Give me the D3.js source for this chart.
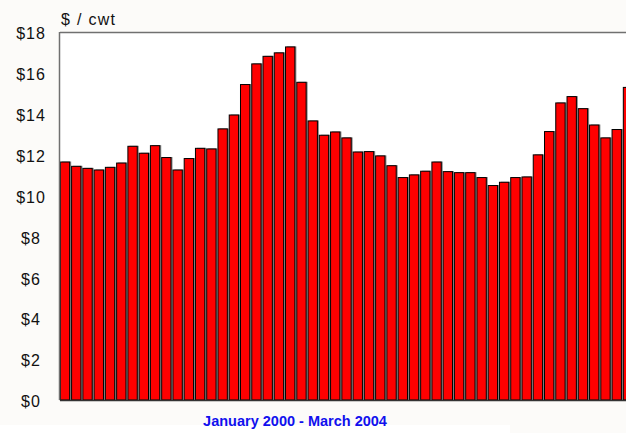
<!DOCTYPE html>
<html>
<head>
<meta charset="utf-8">
<script src="https://cdn.jsdelivr.net/npm/d3@7"></script>
<style>
    body { margin: 0; background: #fcfbf9; }
    svg { display: block; }
</style>
</head>
<body>
<div id="chart"></div>
<script>
    // Monthly price, $/cwt, Jan 2000 - Mar 2004
    const months = d3.timeMonths(new Date(2000, 0, 1), new Date(2004, 3, 1)).map(d3.timeFormat('%b %Y'));
    const prices = [
        11.64, 11.43, 11.33, 11.25, 11.38, 11.59, 12.41, 12.07, 12.44, 11.86, 11.25, 11.81,
        12.31, 12.28, 13.26, 13.94, 15.43, 16.44, 16.81, 16.98, 17.27, 15.54, 13.65, 12.95,
        13.11, 12.82, 12.13, 12.15, 11.94, 11.46, 10.88, 11.01, 11.19, 11.64, 11.17, 11.12,
        11.12, 10.88, 10.49, 10.65, 10.88, 10.91, 11.99, 13.13, 14.53, 14.84, 14.25, 13.45,
        12.82, 13.23, 15.29
    ];
    const yTicks = [0, 2, 4, 6, 8, 10, 12, 14, 16, 18];

    const width = 626;
    const height = 433;
    const margin = { top: 32, left: 60, bottom: 400, right: 633 };

    const svg = d3.select('#chart').append('svg')
        .attr('width', width)
        .attr('height', height);

    const x = d3.scaleBand()
        .domain(months)
        .range([margin.left, margin.right])
        .paddingInner(0.17)
        .paddingOuter(0.03);

    const y = d3.scaleLinear()
        .domain([0, 18])
        .range([margin.bottom, margin.top]);

    // white strip along the bottom edge
    svg.append('rect')
        .attr('x', 0).attr('y', 425)
        .attr('width', 510).attr('height', height - 425)
        .attr('fill', '#fff');

    // plot area
    svg.append('rect')
        .attr('x', margin.left).attr('y', margin.top)
        .attr('width', margin.right - margin.left)
        .attr('height', margin.bottom - margin.top)
        .attr('fill', '#fff');

    const bars = svg.append('g')
        .selectAll('g')
        .data(prices)
        .enter().append('g');

    // grey shadow
    bars.append('rect')
        .attr('x', (d, i) => x(months[i]) + 1.5)
        .attr('y', d => y(d) - 0.5)
        .attr('width', x.bandwidth())
        .attr('height', d => y(0) - y(d) + 0.5)
        .attr('fill', '#8a8a8a');

    bars.append('rect')
        .attr('x', (d, i) => x(months[i]))
        .attr('y', d => y(d))
        .attr('width', x.bandwidth())
        .attr('height', d => y(0) - y(d))
        .attr('fill', '#ff0000')
        .attr('stroke', '#000')
        .attr('stroke-width', 1);

    // frame lines
    svg.append('line')
        .attr('x1', margin.left).attr('x2', margin.right)
        .attr('y1', margin.top + 0.5).attr('y2', margin.top + 0.5)
        .attr('stroke', '#707070').attr('stroke-width', 1.5);
    svg.append('line')
        .attr('x1', margin.left - 0.5).attr('x2', margin.left - 0.5)
        .attr('y1', margin.top).attr('y2', margin.bottom)
        .attr('stroke', '#707070').attr('stroke-width', 1.5);
    svg.append('line')
        .attr('x1', margin.left).attr('x2', margin.right)
        .attr('y1', margin.bottom + 0.5).attr('y2', margin.bottom + 0.5)
        .attr('stroke', '#333').attr('stroke-width', 1.5);

    // y axis labels
    const yAxis = d3.axisLeft(y)
        .tickValues(yTicks)
        .tickSize(0)
        .tickFormat(d => '$' + d);

    const gy = svg.append('g')
        .attr('transform', `translate(${margin.left},0)`)
        .call(yAxis);
    gy.select('.domain').remove();
    gy.selectAll('text')
        .attr('x', -29)
        .attr('dy', '0.42em')
        .attr('text-anchor', 'middle')
        .style('font-family', '"Liberation Sans", Arial, sans-serif')
        .style('font-size', '16px')
        .style('letter-spacing', '1px')
        .attr('fill', '#111');

    svg.append('text')
        .attr('x', 61)
        .attr('y', 25)
        .style('font-family', '"Liberation Sans", Arial, sans-serif')
        .style('font-size', '16px')
        .style('letter-spacing', '1.3px')
        .attr('fill', '#111')
        .text('$ / cwt');

    svg.append('text')
        .attr('x', 295)
        .attr('y', 426)
        .attr('text-anchor', 'middle')
        .style('font-family', '"Liberation Sans", Arial, sans-serif')
        .style('font-size', '14.5px')
        .style('font-weight', 'bold')
        .attr('fill', '#1010ee')
        .text('January 2000 - March 2004');
</script>
</body>
</html>
